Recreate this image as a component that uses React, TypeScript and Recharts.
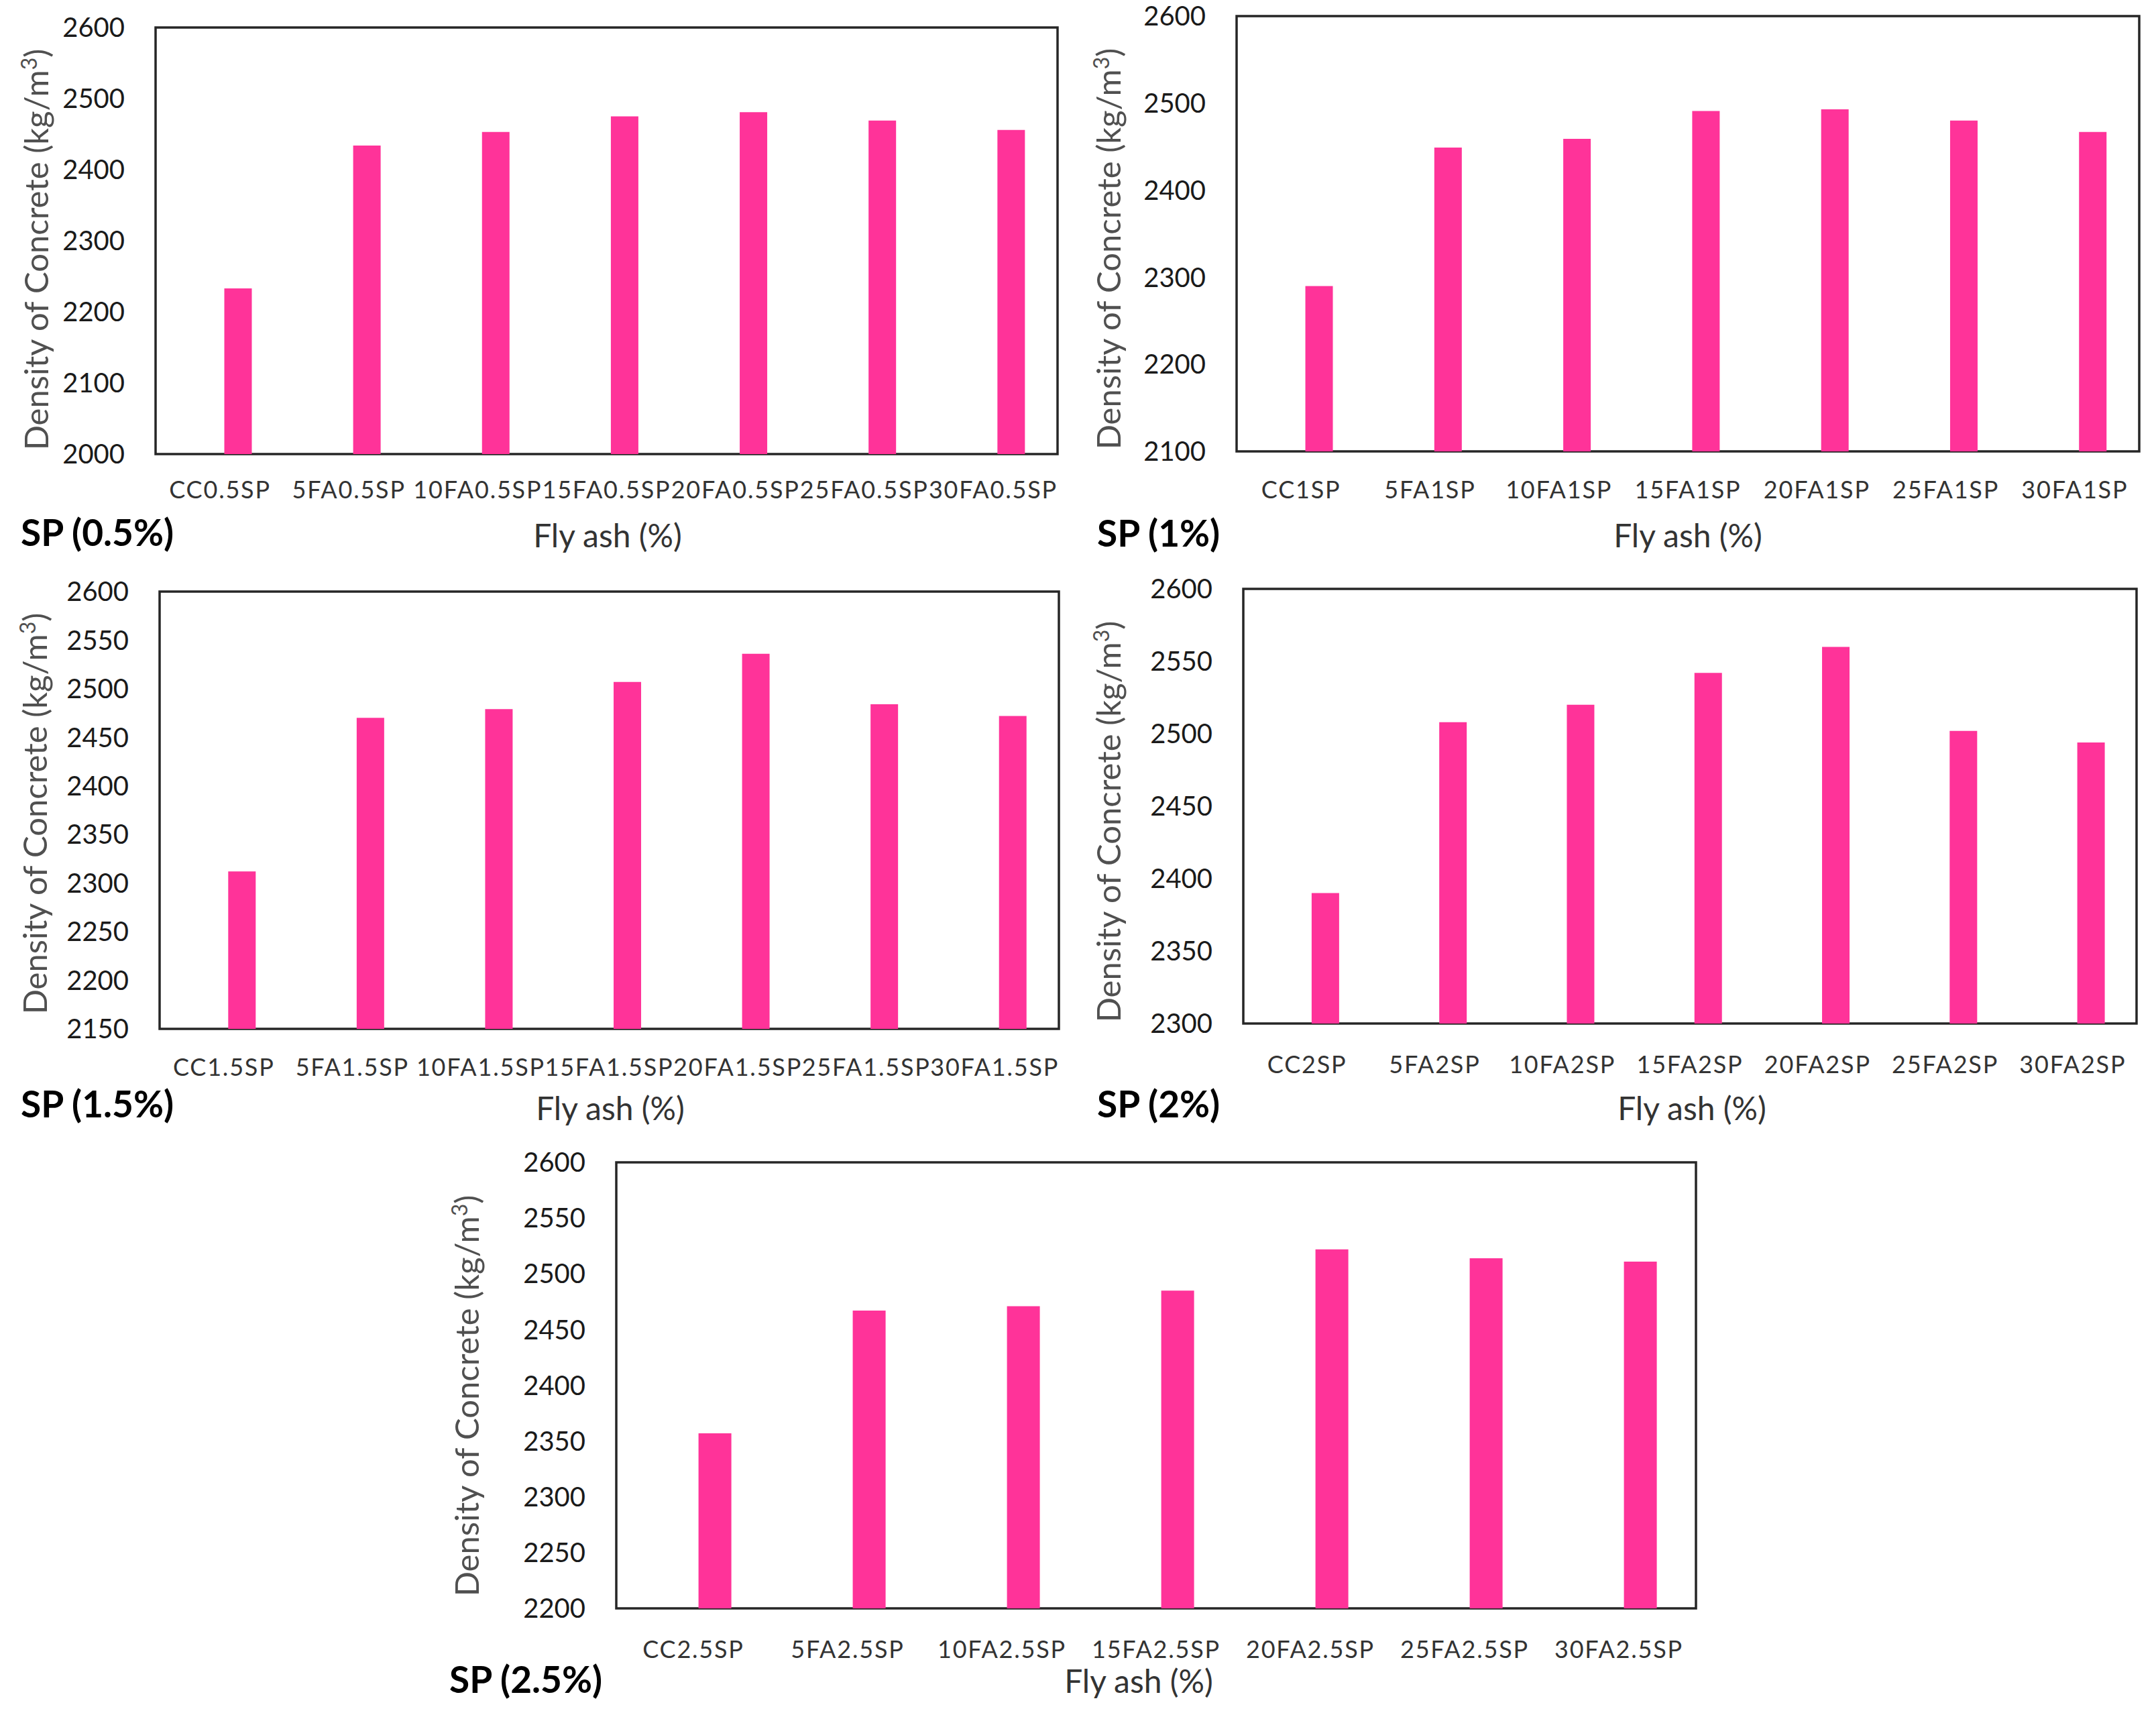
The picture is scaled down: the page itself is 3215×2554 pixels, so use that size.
import React from 'react';
import { BarChart, Bar, XAxis, YAxis, ReferenceArea } from 'recharts';

// ---------- data ----------
const categoriesSP05 = ['CC0.5SP', '5FA0.5SP', '10FA0.5SP', '15FA0.5SP', '20FA0.5SP', '25FA0.5SP', '30FA0.5SP'];
const densitySP05 = [2233, 2434, 2453, 2475, 2481, 2469, 2456];
const ticksSP05 = [2000, 2100, 2200, 2300, 2400, 2500, 2600];

const categoriesSP1 = ['CC1SP', '5FA1SP', '10FA1SP', '15FA1SP', '20FA1SP', '25FA1SP', '30FA1SP'];
const densitySP1 = [2290, 2449, 2459, 2491, 2493, 2480, 2467];
const ticksSP1 = [2100, 2200, 2300, 2400, 2500, 2600];

const categoriesSP15 = ['CC1.5SP', '5FA1.5SP', '10FA1.5SP', '15FA1.5SP', '20FA1.5SP', '25FA1.5SP', '30FA1.5SP'];
const densitySP15 = [2312, 2470, 2479, 2507, 2536, 2484, 2472];
const ticksSP15 = [2150, 2200, 2250, 2300, 2350, 2400, 2450, 2500, 2550, 2600];

const categoriesSP2 = ['CC2SP', '5FA2SP', '10FA2SP', '15FA2SP', '20FA2SP', '25FA2SP', '30FA2SP'];
const densitySP2 = [2390, 2508, 2520, 2542, 2560, 2502, 2494];
const ticksSP2 = [2300, 2350, 2400, 2450, 2500, 2550, 2600];

const categoriesSP25 = ['CC2.5SP', '5FA2.5SP', '10FA2.5SP', '15FA2.5SP', '20FA2.5SP', '25FA2.5SP', '30FA2.5SP'];
const densitySP25 = [2357, 2467, 2471, 2485, 2522, 2514, 2511];
const ticksSP25 = [2200, 2250, 2300, 2350, 2400, 2450, 2500, 2550, 2600];

const panelTitles = ['SP (0.5%)', 'SP (1%)', 'SP (1.5%)', 'SP (2%)', 'SP (2.5%)'];
const xAxisTitle = 'Fly ash (%)';
const yAxisTitle = 'Density of Concrete (kg/m';

// ---------- layout (page pixels) ----------
type Layout = {
  x: number; y: number; w: number; h: number;
  yLabelX: number; yLabelCy: number;
  spX: number; spBase: number;
  flyCx: number; flyBase: number;
  tickMargin: number;
};

const layouts: Layout[] = [
  { x: 232, y: 41, w: 1345, h: 636, yLabelX: 72, yLabelCy: 372, spX: 31, spBase: 814, flyCx: 906, flyBase: 816, tickMargin: 40 },
  { x: 1844, y: 24, w: 1346, h: 649, yLabelX: 1671, yLabelCy: 371, spX: 1636, spBase: 815, flyCx: 2517, flyBase: 816, tickMargin: 44 },
  { x: 238, y: 882, w: 1341, h: 652, yLabelX: 70, yLabelCy: 1213, spX: 31, spBase: 1666, flyCx: 910, flyBase: 1670, tickMargin: 44 },
  { x: 1854, y: 878, w: 1332, h: 648, yLabelX: 1671, yLabelCy: 1225, spX: 1636, spBase: 1666, flyCx: 2523, flyBase: 1670, tickMargin: 48 },
  { x: 919, y: 1733, w: 1610, h: 665, yLabelX: 714, yLabelCy: 2081, spX: 670, spBase: 2524, flyCx: 1698, flyBase: 2524, tickMargin: 48 },
];

const PINK = '#FF3399';
const FONT = 'Lato, "Open Sans", sans-serif';

function Panel(props: { categories: string[]; values: number[]; ticks: number[]; title: string; layout: Layout }) {
  const { categories, values, ticks, title, layout } = props;
  const data = categories.map((c, i) => ({ name: c, density: values[i] }));
  const padL = 260;
  const padT = 40;
  const padR = 40;
  const padB = 220;
  const left = layout.x - padL;
  const top = layout.y - padT;
  const W = layout.w + padL + padR;
  const H = layout.h + padT + padB;
  const toX = (ax: number) => ax - left;
  const toY = (ay: number) => ay - top;
  const yMin = ticks[0];
  const yMax = ticks[ticks.length - 1];

  const overlay = () => (
    <g>
      <text
        transform={`translate(${toX(layout.yLabelX)},${toY(layout.yLabelCy)}) rotate(-90)`}
        textAnchor="middle"
        fontFamily={FONT}
        fontSize={49}
        fill="#505050"
      >
        {yAxisTitle}
        <tspan dy={-17} fontSize={32}>3</tspan>
        <tspan dy={17}>)</tspan>
      </text>
      <text x={toX(layout.spX)} y={toY(layout.spBase)} fontFamily={FONT} fontWeight={700} fontSize={55} fill="#000">
        {title}
      </text>
      <text x={toX(layout.flyCx)} y={toY(layout.flyBase)} textAnchor="middle" fontFamily={FONT} fontSize={48} fill="#333333">
        {xAxisTitle}
      </text>
    </g>
  );

  return (
    <div style={{ position: 'absolute', left, top, width: W, height: H }}>
      <BarChart
        width={W}
        height={H}
        data={data}
        margin={{ top: padT, right: padR, left: 0, bottom: 0 }}
        barCategoryGap="25%"
        barGap="7%"
      >
        <XAxis
          dataKey="name"
          interval={0}
          height={padB}
          tickSize={0}
          tickMargin={layout.tickMargin}
          axisLine={false}
          tickLine={false}
          tick={{ fontFamily: FONT, fontSize: 36, fill: '#333333', letterSpacing: 1.8 }}
          label={overlay}
        />
        <YAxis
          type="number"
          domain={[yMin, yMax]}
          ticks={ticks}
          interval={0}
          allowDataOverflow
          width={padL}
          tickSize={0}
          tickMargin={46}
          axisLine={false}
          tickLine={false}
          tick={{ fontFamily: FONT, fontSize: 40, fill: '#1a1a1a' }}
        />
        <Bar dataKey="spacer" fill="none" isAnimationActive={false} />
        <Bar dataKey="density" fill={PINK} isAnimationActive={false} />
        <ReferenceArea y1={yMin} y2={yMax} fill="none" stroke="#262626" strokeWidth={3.5} ifOverflow="visible" />
      </BarChart>
    </div>
  );
}

export default function App() {
  return (
    <div style={{ position: 'absolute', left: 0, top: 0, width: 3215, height: 2554, background: '#ffffff', overflow: 'hidden' }}>
      <Panel categories={categoriesSP05} values={densitySP05} ticks={ticksSP05} title={panelTitles[0]} layout={layouts[0]} />
      <Panel categories={categoriesSP1} values={densitySP1} ticks={ticksSP1} title={panelTitles[1]} layout={layouts[1]} />
      <Panel categories={categoriesSP15} values={densitySP15} ticks={ticksSP15} title={panelTitles[2]} layout={layouts[2]} />
      <Panel categories={categoriesSP2} values={densitySP2} ticks={ticksSP2} title={panelTitles[3]} layout={layouts[3]} />
      <Panel categories={categoriesSP25} values={densitySP25} ticks={ticksSP25} title={panelTitles[4]} layout={layouts[4]} />
    </div>
  );
}
